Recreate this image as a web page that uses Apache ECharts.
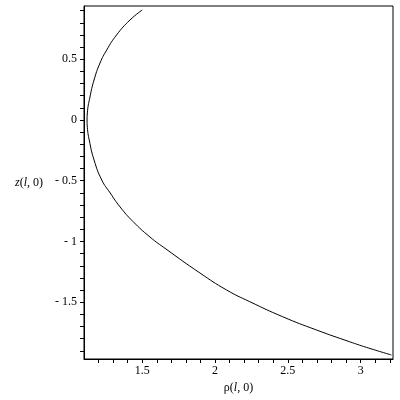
<!DOCTYPE html>
<html>
<head>
<meta charset="utf-8">
<script src="https://cdn.jsdelivr.net/npm/echarts@6/dist/echarts.min.js"></script>
<style>
  html, body { margin: 0; padding: 0; background: #ffffff; }
  #chart { width: 400px; height: 400px; }
</style>
</head>
<body>
<div id="chart"></div>
<script>
// curve: rho(l, 0) against z(l, 0)
const rhoValues = [1.50, 1.416, 1.324, 1.256, 1.210, 1.169, 1.141, 1.123, 1.121, 1.123,
    1.136, 1.169, 1.222, 1.280, 1.348, 1.436, 1.553, 1.663, 1.896, 2.079,
    2.238, 2.464, 2.696, 2.924, 3.039, 3.211];
const zValues = [0.905, 0.823, 0.700, 0.576, 0.469, 0.329, 0.189, 0.058, 0, -0.06,
    -0.165, -0.329, -0.494, -0.601, -0.716, -0.835, -0.963, -1.062, -1.259, -1.399,
    -1.495, -1.619, -1.728, -1.825, -1.871, -1.934];

const xLabels = [1.5, 2, 2.5, 3];
const xTicks = [1.2, 1.3, 1.4, 1.5, 1.6, 1.7, 1.8, 1.9, 2, 2.1, 2.2, 2.3, 2.4, 2.5,
    2.6, 2.7, 2.8, 2.9, 3, 3.1, 3.2];
const yLabels = [-1.5, -1, -0.5, 0, 0.5];
const yTicks = [-1.9, -1.8, -1.7, -1.6, -1.5, -1.4, -1.3, -1.2, -1.1, -1, -0.9, -0.8,
    -0.7, -0.6, -0.5, -0.4, -0.3, -0.2, -0.1, 0, 0.1, 0.2, 0.3, 0.4, 0.5, 0.6, 0.7,
    0.8, 0.9];

const FONT = 'Liberation Serif';

const fmt = v => (v < 0 ? '- ' + String(-v) : String(v));

const axisCommon = {
    type: 'value',
    axisLine: { show: true, onZero: false, lineStyle: { color: '#000', width: 1 } },
    splitLine: { show: false },
    nameTextStyle: {
        fontFamily: FONT,
        fontSize: 12,
        color: '#000',
        rich: { i: { fontFamily: FONT, fontSize: 12, fontStyle: 'italic', color: '#000' } }
    }
};

const chart = echarts.init(document.getElementById('chart'), null, { renderer: 'canvas' });

chart.setOption({
    backgroundColor: '#ffffff',
    animation: false,
    grid: {
        left: 84,
        right: 7,
        top: 6,
        bottom: 41,
        show: true,
        borderColor: '#000',
        borderWidth: 1,
        containLabel: false,
        outerBoundsMode: 'none'
    },
    xAxis: Object.assign({}, axisCommon, {
        min: 1.1,
        max: 3.222,
        name: 'ρ({i|l}, 0)',
        nameLocation: 'middle',
        nameGap: 23,
        axisTick: { show: true, inside: false, length: 4, customValues: xTicks,
            lineStyle: { color: '#000' } },
        axisLabel: { customValues: xLabels, formatter: fmt, margin: 6,
            fontFamily: FONT, fontSize: 12, color: '#000' }
    }),
    yAxis: Object.assign({}, axisCommon, {
        min: -1.967,
        max: 0.938,
        name: '{i|z}({i|l}, 0)',
        nameLocation: 'middle',
        nameRotate: 0,
        nameGap: 41,
        axisTick: { show: true, inside: false, length: 4, customValues: yTicks,
            lineStyle: { color: '#000' } },
        axisLabel: { customValues: yLabels, formatter: fmt, margin: 7,
            fontFamily: FONT, fontSize: 12, color: '#000' }
    }),
    series: [{
        type: 'line',
        data: rhoValues.map((r, i) => [r, zValues[i]]),
        smooth: 0.5,
        showSymbol: false,
        lineStyle: { color: '#000', width: 1 }
    }]
});
</script>
</body>
</html>
